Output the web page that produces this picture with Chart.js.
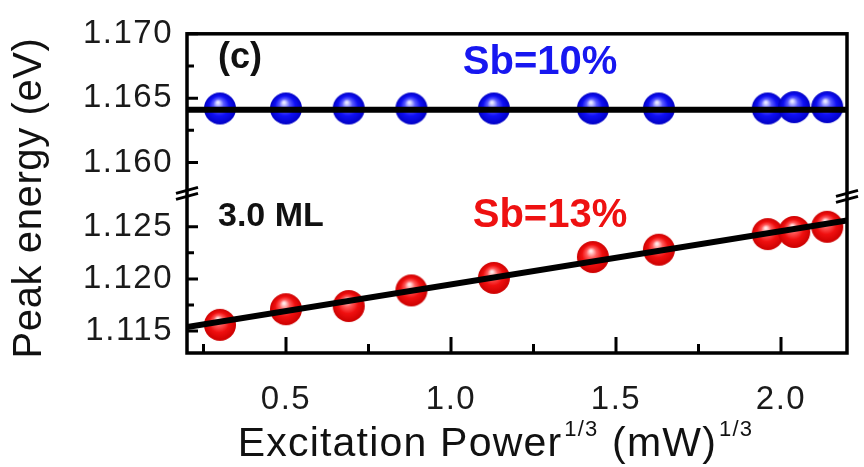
<!DOCTYPE html>
<html>
<head>
<meta charset="utf-8">
<script src="https://cdn.jsdelivr.net/npm/chart.js@4.4.1/dist/chart.umd.min.js"></script>
<style>
  html, body { margin: 0; padding: 0; background: #fff; }
  #wrap { width: 864px; height: 467px; }
</style>
</head>
<body>
<div id="wrap"><canvas id="c" width="864" height="467"></canvas></div>
<script>
// Peak energy vs cube root of excitation power, 3.0 ML samples
const powerX     = [0.30, 0.50, 0.69, 0.88, 1.13, 1.43, 1.63, 1.96, 2.04, 2.14];
const energySb10 = [1.1642, 1.1642, 1.1642, 1.1642, 1.1642, 1.1642, 1.1642, 1.1642, 1.1643, 1.1643];
const energySb13 = [1.1156, 1.1171, 1.1174, 1.1189, 1.1201, 1.1221, 1.1228, 1.1243, 1.1245, 1.1250];

// Linear fits
const fitX     = [0.2, 2.2];
const fitSb10  = [1.1641, 1.1641];
const fitSb13  = [1.1154, 1.1256];

// Axis ticks
const xMajorTicks  = [0.5, 1.0, 1.5, 2.0];
const xMinorTicks  = [0.25, 0.75, 1.25, 1.75];
const yUpperMajor  = [1.160, 1.165, 1.170];
const yUpperMinor  = [1.1625, 1.1675];
const yLowerMajor  = [1.115, 1.120, 1.125];
const yLowerMinor  = [1.1175, 1.1225];

const FONT = "'Liberation Sans', Arial, Helvetica, sans-serif";

const toPoints = (xs, ys) => xs.map((x, i) => ({ x: x, y: ys[i] }));

// shaded ball marker
function sphere(light, mid, base, dark) {
  const s = 34, r = 16;
  const c = document.createElement('canvas');
  c.width = s; c.height = s;
  const g = c.getContext('2d');
  const grad = g.createRadialGradient(s / 2 - 2, s / 2 - 6, 1, s / 2, s / 2, r);
  grad.addColorStop(0, light);
  grad.addColorStop(0.28, mid);
  grad.addColorStop(0.6, base);
  grad.addColorStop(1, dark);
  g.fillStyle = grad;
  g.beginPath();
  g.arc(s / 2, s / 2, r, 0, Math.PI * 2);
  g.fill();
  return c;
}
const blueBall = sphere('#e6e6ff', '#5a5aff', '#1010f4', '#0000c4');
const redBall  = sphere('#ffe6e6', '#ff5a5a', '#f01010', '#cc0000');

function fixedTicks(major, minor) {
  return function (scale) {
    scale.ticks = major.concat(minor).sort((a, b) => a - b).map(v => ({ value: v }));
  };
}
function majorLabel(major, digits) {
  return function (value) {
    return major.includes(value) ? value.toFixed(digits) : '';
  };
}

const tickFont = { family: FONT, size: 33 };
const tickColor = '#1a1a1a';

// slightly open letter spacing for the axis numbers
const spacing = {
  id: 'spacing',
  beforeDraw(chart) { chart.ctx.letterSpacing = '1.5px'; }
};

// frame, inward ticks, axis breaks, titles and labels
const decorations = {
  id: 'decorations',
  afterDatasetsDraw(chart) {
    const ctx = chart.ctx;
    const { left, right, top, bottom } = chart.chartArea;
    const xs = chart.scales.x, yt = chart.scales.yTop, yb = chart.scales.yBot;
    ctx.save();
    ctx.strokeStyle = '#000';
    ctx.lineCap = 'butt';

    // ticks
    ctx.lineWidth = 3;
    ctx.beginPath();
    xs.ticks.forEach(t => {
      const px = xs.getPixelForValue(t.value);
      const len = xMajorTicks.includes(t.value) ? 16 : 9;
      ctx.moveTo(px, bottom); ctx.lineTo(px, bottom - len);
    });
    [[yt, yUpperMajor], [yb, yLowerMajor]].forEach(([sc, major]) => {
      sc.ticks.forEach(t => {
        const py = sc.getPixelForValue(t.value);
        const len = major.includes(t.value) ? 11 : 7;
        ctx.moveTo(left, py); ctx.lineTo(left + len, py);
      });
    });
    ctx.stroke();

    // frame
    ctx.lineWidth = 3.5;
    ctx.strokeRect(left, top, right - left, bottom - top);

    // axis break marks
    const yBreak = Math.min(yt.bottom, yb.bottom);
    ctx.lineWidth = 3;
    [[left, yBreak], [right, yBreak + 3]].forEach(([bx, by]) => {
      for (const d of [-3, 3]) {
        ctx.beginPath();
        ctx.moveTo(bx - 11, by + d + 3);
        ctx.lineTo(bx + 11, by + d - 3);
        ctx.stroke();
      }
    });

    // y title
    ctx.fillStyle = '#111';
    ctx.letterSpacing = '0.6px';
    ctx.font = `40px ${FONT}`;
    ctx.textAlign = 'center';
    ctx.textBaseline = 'middle';
    ctx.save();
    ctx.translate(30, 198);
    ctx.rotate(-Math.PI / 2);
    ctx.fillText('Peak energy (eV)', 0, 0);
    ctx.restore();

    // x title with superscripts
    const parts = [
      { t: 'Excitation Power', sup: false },
      { t: '1/3', sup: true },
      { t: ' (mW)', sup: false },
      { t: '1/3', sup: true }
    ];
    const mainFont = `41px ${FONT}`, supFont = `22px ${FONT}`;
    ctx.letterSpacing = '1.2px';
    let total = 0;
    parts.forEach(p => {
      ctx.font = p.sup ? supFont : mainFont;
      p.w = ctx.measureText(p.t).width + (p.sup ? 3 : 0);
      total += p.w;
    });
    let cx = 496 - total / 2;
    const base = 456;
    ctx.textAlign = 'left';
    ctx.textBaseline = 'alphabetic';
    parts.forEach(p => {
      ctx.font = p.sup ? supFont : mainFont;
      ctx.fillText(p.t, cx + (p.sup ? 2 : 0), p.sup ? base - 20 : base);
      cx += p.w;
    });

    // in-plot labels
    ctx.letterSpacing = '0px';
    ctx.textBaseline = 'middle';
    ctx.font = `bold 36px ${FONT}`;
    ctx.fillStyle = '#111';
    ctx.fillText('(c)', left + 31, yt.getPixelForValue(1.1681));
    ctx.font = `bold 34px ${FONT}`;
    ctx.fillText('3.0 ML', left + 31, yb.getPixelForValue(1.1260));
    ctx.font = `bold 40px ${FONT}`;
    ctx.textAlign = 'center';
    ctx.fillStyle = '#1717f0';
    ctx.fillText('Sb=10%', xs.getPixelForValue(1.27), yt.getPixelForValue(1.1677));
    ctx.fillStyle = '#ee1111';
    ctx.fillText('Sb=13%', xs.getPixelForValue(1.30), yb.getPixelForValue(1.1260));
    ctx.restore();
  }
};

new Chart(document.getElementById('c'), {
  type: 'scatter',
  data: {
    datasets: [
      {
        label: 'fit Sb=10%',
        data: toPoints(fitX, fitSb10),
        yAxisID: 'yTop',
        showLine: true,
        borderColor: '#000',
        borderWidth: 6,
        pointRadius: 0,
        order: 0
      },
      {
        label: 'fit Sb=13%',
        data: toPoints(fitX, fitSb13),
        yAxisID: 'yBot',
        showLine: true,
        borderColor: '#000',
        borderWidth: 6,
        pointRadius: 0,
        order: 0
      },
      {
        label: 'Sb=10%',
        data: toPoints(powerX, energySb10),
        yAxisID: 'yTop',
        pointStyle: blueBall,
        pointRadius: 16,
        order: 1
      },
      {
        label: 'Sb=13%',
        data: toPoints(powerX, energySb13),
        yAxisID: 'yBot',
        pointStyle: redBall,
        pointRadius: 16,
        order: 1
      }
    ]
  },
  options: {
    responsive: false,
    animation: false,
    devicePixelRatio: 1,
    layout: { padding: { left: 0, top: 25, right: 7, bottom: 0 } },
    plugins: { legend: { display: false }, tooltip: { enabled: false } },
    scales: {
      x: {
        type: 'linear',
        position: 'bottom',
        min: 0.2,
        max: 2.2,
        afterBuildTicks: fixedTicks(xMajorTicks, xMinorTicks),
        afterFit: s => { s.height = 114; },
        grid: { display: false, drawTicks: false },
        border: { display: false },
        ticks: {
          autoSkip: false,
          maxRotation: 0,
          padding: 27,
          font: tickFont,
          color: tickColor,
          callback: majorLabel(xMajorTicks, 1)
        }
      },
      yBot: {
        type: 'linear',
        position: 'left',
        stack: 'energy',
        stackWeight: 1,
        min: 1.1129,
        max: 1.1282,
        afterBuildTicks: fixedTicks(yLowerMajor, yLowerMinor),
        afterFit: s => { s.width = 187; },
        grid: { display: false, drawTicks: false },
        border: { display: false },
        ticks: {
          autoSkip: false,
          padding: 14,
          font: tickFont,
          color: tickColor,
          callback: majorLabel(yLowerMajor, 3)
        }
      },
      yTop: {
        type: 'linear',
        position: 'left',
        stack: 'energy',
        stackWeight: 1,
        min: 1.1576,
        max: 1.170,
        afterBuildTicks: fixedTicks(yUpperMajor, yUpperMinor),
        afterFit: s => { s.width = 187; },
        grid: { display: false, drawTicks: false },
        border: { display: false },
        ticks: {
          autoSkip: false,
          padding: 14,
          font: tickFont,
          color: tickColor,
          callback: majorLabel(yUpperMajor, 3)
        }
      }
    }
  },
  plugins: [spacing, decorations]
});
</script>
</body>
</html>
